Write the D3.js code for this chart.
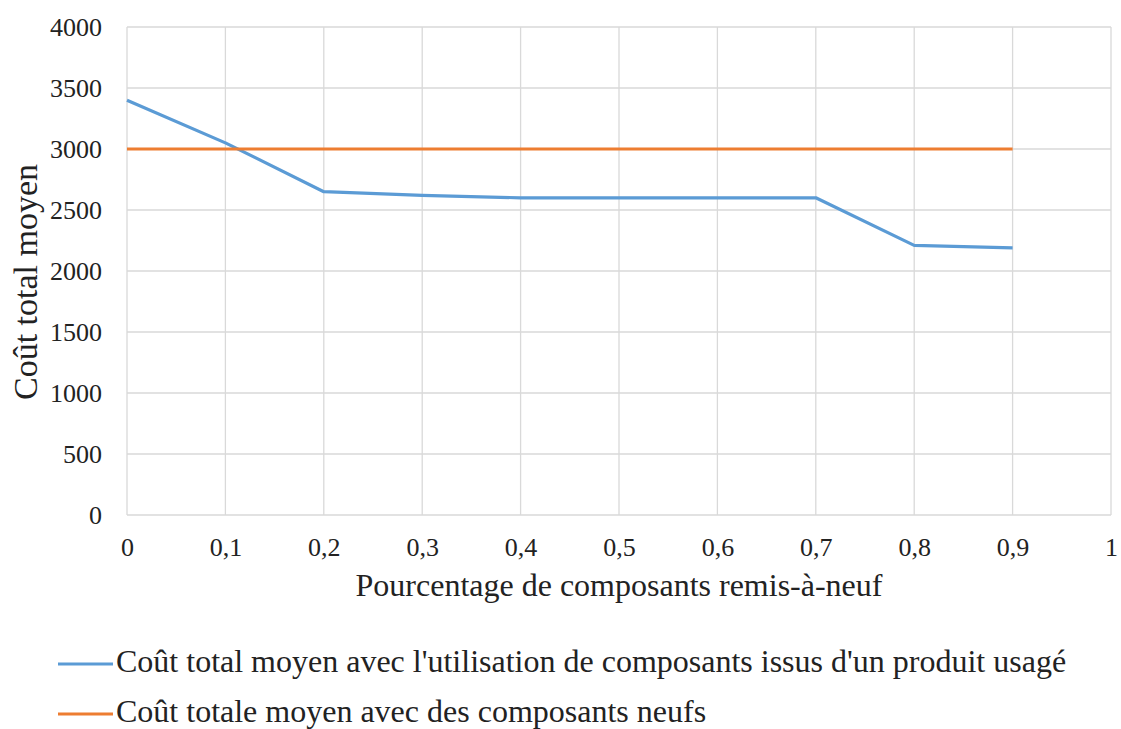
<!DOCTYPE html>
<html><head><meta charset="utf-8">
<script src="https://cdn.jsdelivr.net/npm/d3@7"></script>
<style>body{margin:0;background:#fff}svg{display:block}text{font-family:"Liberation Serif","Times New Roman",serif;fill:#222}</style>
</head><body><svg id="c" width="1121" height="729"></svg>
<script>
const xValues = [0, 0.1, 0.2, 0.3, 0.4, 0.5, 0.6, 0.7, 0.8, 0.9];
const usedCost = [3400, 3050, 2650, 2620, 2600, 2600, 2600, 2600, 2210, 2190];
const newCost = [3000, 3000, 3000, 3000, 3000, 3000, 3000, 3000, 3000, 3000];
const xTicks = [0, 0.1, 0.2, 0.3, 0.4, 0.5, 0.6, 0.7, 0.8, 0.9, 1];
const yTicks = [0, 500, 1000, 1500, 2000, 2500, 3000, 3500, 4000];
const seriesNames = ["Coût total moyen avec l'utilisation de composants issus d'un produit usagé", "Coût totale moyen avec des composants neufs"];
const colors = ["#5B9BD5", "#ED7D31"];

const svg = d3.select("#c");
const L = 127, R = 1111, T = 27, B = 515;
const x = d3.scaleLinear().domain([0, 1]).range([L, R]);
const y = d3.scaleLinear().domain([0, 4000]).range([B, T]);
const fmt = d => String(d).replace(".", ",");
const FF = '"Liberation Serif","Times New Roman",serif';

// gridlines
svg.append("g").selectAll("line").data(yTicks).join("line")
  .attr("x1", L).attr("x2", R).attr("y1", d => y(d)).attr("y2", d => y(d))
  .attr("stroke", "#d9d9d9").attr("stroke-width", 1.3);
svg.append("g").selectAll("line").data(xTicks).join("line")
  .attr("x1", d => x(d)).attr("x2", d => x(d)).attr("y1", T).attr("y2", B)
  .attr("stroke", "#d9d9d9").attr("stroke-width", 1.3);

// axes labels
const yAxis = svg.append("g").attr("transform", `translate(${L},0)`)
  .call(d3.axisLeft(y).tickValues(yTicks).tickSize(0).tickPadding(25).tickFormat(d => d));
yAxis.select(".domain").remove();
yAxis.selectAll("text").style("font-size", "26px").style("font-family", FF).attr("fill", "#222");

const xAxis = svg.append("g").attr("transform", `translate(0,${B})`)
  .call(d3.axisBottom(x).tickValues(xTicks).tickSize(0).tickPadding(23).tickFormat(fmt));
xAxis.select(".domain").remove();
xAxis.selectAll("text").style("font-size", "26px").style("font-family", FF).attr("fill", "#222");

// axis titles
svg.append("text").attr("x", (L + R) / 2).attr("y", 596).attr("text-anchor", "middle")
  .style("font-size", "32px").text("Pourcentage de composants remis-à-neuf");
svg.append("text").attr("transform", `translate(37,${282}) rotate(-90)`).attr("text-anchor", "middle")
  .style("font-size", "34px").text("Coût total moyen");

// lines
const line = d3.line().x((d, i) => x(xValues[i])).y(d => y(d));
[usedCost, newCost].forEach((s, k) => {
  svg.append("path").datum(s).attr("d", line).attr("fill", "none")
    .attr("stroke", colors[k]).attr("stroke-width", 3.2).attr("stroke-linejoin", "round");
});

// legend
seriesNames.forEach((n, k) => {
  const yy = 664 + k * 50;
  svg.append("line").attr("x1", 58).attr("x2", 113).attr("y1", yy).attr("y2", yy)
    .attr("stroke", colors[k]).attr("stroke-width", 3.2);
  svg.append("text").attr("x", 116).attr("y", yy + 8).style("font-size", "32px").text(n);
});
</script></body></html>
